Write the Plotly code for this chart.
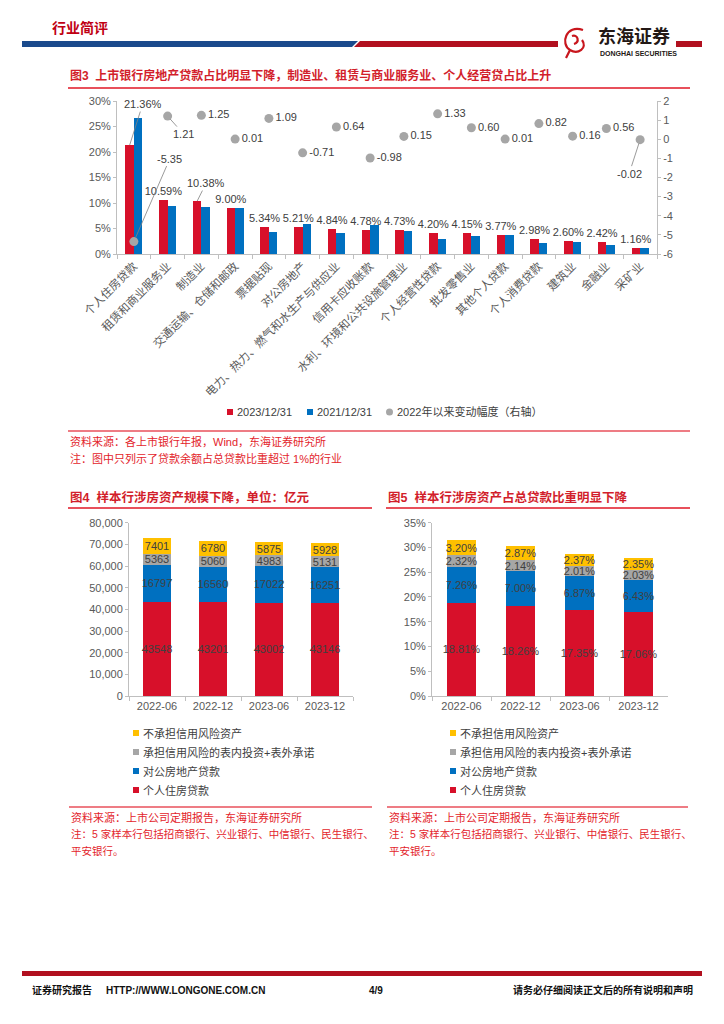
import plotly.graph_objects as go

# page body has an 8px default margin: the figure covers 716x1016 starting at (8, 8)
OFF = 8
W, H = 724 - OFF, 1024 - OFF
def X(p): return (p - OFF) / W
def Y(p): return 1 - (p - OFF) / H

# ---------------- data ----------------
industries = ["个人住房贷款", "租赁和商业服务业", "制造业", "交通运输、仓储和邮政", "票据贴现",
              "对公房地产", "电力、热力、燃气和水生产与供应业", "信用卡应收账款",
              "水利、环境和公共设施管理业", "个人经营性贷款", "批发零售业", "其他个人贷款",
              "个人消费贷款", "建筑业", "金融业", "采矿业"]
share_2023 = [21.36, 10.59, 10.38, 9.00, 5.34, 5.21, 4.84, 4.78, 4.73, 4.20, 4.15, 3.77, 2.98, 2.60, 2.42, 1.16]
share_2021 = [26.71, 9.38, 9.13, 8.99, 4.25, 5.92, 4.20, 5.76, 4.58, 2.87, 3.55, 3.76, 2.16, 2.44, 1.86, 1.18]
change_since_2022 = [-5.35, 1.21, 1.25, 0.01, 1.09, -0.71, 0.64, -0.98, 0.15, 1.33, 0.60, 0.01, 0.82, 0.16, 0.56, -0.02]
fig3_series = ["2023/12/31", "2021/12/31", "2022年以来变动幅度（右轴）"]

periods = ["2022-06", "2022-12", "2023-06", "2023-12"]
scale_personal = [43548, 43201, 43002, 43146]
scale_corporate = [16797, 16560, 17022, 16251]
scale_credit_risk = [5363, 5060, 4983, 5131]
scale_no_credit_risk = [7401, 6780, 5875, 5928]

ratio_personal = [18.81, 18.26, 17.35, 17.06]
ratio_corporate = [7.26, 7.00, 6.87, 6.43]
ratio_credit_risk = [2.32, 2.14, 2.01, 2.03]
ratio_no_credit_risk = [3.20, 2.87, 2.37, 2.35]

stack_names = ["个人住房贷款", "对公房地产贷款", "承担信用风险的表内投资+表外承诺", "不承担信用风险资产"]

# ---------------- styles ----------------
RED = "#D7102A"
BLUE = "#0070C0"
GRAY = "#A6A6A6"
GOLD = "#FFC000"
TXT = "#404040"
AX = "#595959"
LINE = "#BFBFBF"
CAP = "#D21E2B"
SRC = "#E3242B"
FONT = "Liberation Sans, Arial, Noto Sans CJK SC, sans-serif"

fig = go.Figure()

# ---------------- Fig 3 ----------------
special_bar = {0, 2}
fig.add_trace(go.Bar(
    x=industries, y=share_2023, name=fig3_series[0], xaxis="x", yaxis="y",
    marker=dict(color=RED, line_width=0), offsetgroup="a",
    text=["" if i in special_bar else f"{v:.2f}%" for i, v in enumerate(share_2023)],
    textposition="outside", textangle=0, constraintext="none", cliponaxis=False,
    textfont=dict(size=11, color=TXT, family=FONT)))
fig.add_trace(go.Bar(
    x=industries, y=share_2021, name=fig3_series[1], xaxis="x", yaxis="y",
    marker=dict(color=BLUE, line_width=0), offsetgroup="b"))
special_dot = {0, 1, 15}
fig.add_trace(go.Scatter(
    x=industries, y=change_since_2022, name=fig3_series[2], xaxis="x", yaxis="y2",
    mode="markers+text", marker=dict(size=9, color=GRAY),
    text=["" if i in special_dot else f"{v:.2f}" for i, v in enumerate(change_since_2022)],
    textposition="middle right", cliponaxis=False,
    textfont=dict(size=11, color=TXT, family=FONT)))

# ---------------- Fig 4 ----------------
fig4_cols = [(scale_personal, RED), (scale_corporate, BLUE), (scale_credit_risk, GRAY), (scale_no_credit_risk, GOLD)]
for (vals, col), nm in zip(fig4_cols, stack_names):
    fig.add_trace(go.Bar(
        x=periods, y=vals, name=nm, xaxis="x2", yaxis="y3",
        marker=dict(color=col, line_width=0),
        text=[str(v) for v in vals], textposition="inside", insidetextanchor="middle",
        textangle=0, constraintext="none",
        textfont=dict(size=11, color=TXT, family=FONT)))

# ---------------- Fig 5 ----------------
fig5_cols = [(ratio_personal, RED), (ratio_corporate, BLUE), (ratio_credit_risk, GRAY), (ratio_no_credit_risk, GOLD)]
for (vals, col), nm in zip(fig5_cols, stack_names):
    fig.add_trace(go.Bar(
        x=periods, y=vals, name=nm, xaxis="x3", yaxis="y4",
        marker=dict(color=col, line_width=0),
        text=[f"{v:.2f}%" for v in vals], textposition="inside", insidetextanchor="middle",
        textangle=0, constraintext="none",
        textfont=dict(size=11, color=TXT, family=FONT)))

axis_common = dict(showgrid=False, zeroline=False, showline=True, linecolor=LINE, linewidth=1,
                   ticks="outside", tickcolor=LINE, ticklen=3, automargin=False,
                   tickfont=dict(size=11, color=AX, family=FONT))

fig.update_layout(
    width=W, height=H, margin=dict(l=0, r=0, t=0, b=0, pad=0, autoexpand=False),
    paper_bgcolor="white", plot_bgcolor="white", showlegend=False,
    barmode="stack", bargap=0.5, bargroupgap=0,
    font=dict(family=FONT, color=TXT),
    xaxis=dict(domain=[X(117), X(657)], anchor="y", type="category", tickson="boundaries",
               range=[-0.5, len(industries) - 0.5], tickangle=-45,
               **{**axis_common, "ticklen": 4, "tickfont": dict(size=11.5, color=AX, family=FONT)}),
    yaxis=dict(domain=[Y(254), Y(101)], anchor="x", range=[0, 30], dtick=5, ticksuffix="%", **axis_common),
    yaxis2=dict(overlaying="y", side="right", anchor="x", range=[-6, 2],
                tickvals=list(range(-6, 3)), ticktext=[str(v) for v in range(-6, 3)], **axis_common),
    xaxis2=dict(domain=[X(129), X(353)], anchor="y3", type="category", tickson="boundaries",
                range=[-0.5, len(periods) - 0.5], **{**axis_common, "ticklen": 4}),
    yaxis3=dict(domain=[Y(696), Y(522.7)], anchor="x2", range=[0, 80000], dtick=10000,
                tickformat=",d", **axis_common),
    xaxis3=dict(domain=[X(432), X(668)], anchor="y4", type="category", tickson="boundaries",
                range=[-0.5, len(periods) - 0.5], **{**axis_common, "ticklen": 4}),
    yaxis4=dict(domain=[Y(696), Y(522.7)], anchor="x3", range=[0, 35], dtick=5, ticksuffix="%",
                **axis_common),
)

ann = []
shapes = []

def text(x, y, s, size=11, color=TXT, xanchor="left", bold=False):
    ann.append(dict(xref="paper", yref="paper", x=X(x), y=Y(y), text=f"<b>{s}</b>" if bold else s,
                    showarrow=False, xanchor=xanchor, yanchor="middle",
                    font=dict(size=size, color=color, family=FONT)))

def hline(x0, x1, y, color, width=1.5):
    shapes.append(dict(type="line", xref="paper", yref="paper", x0=X(x0), x1=X(x1), y0=Y(y), y1=Y(y),
                       line=dict(color=color, width=width)))

def rect(x0, y0, x1, y1, color):
    shapes.append(dict(type="rect", xref="paper", yref="paper", x0=X(x0), x1=X(x1), y0=Y(y0), y1=Y(y1),
                       fillcolor=color, line=dict(width=0)))

def poly(pts, color):
    p = "M " + " L ".join(f"{X(a)},{Y(b)}" for a, b in pts) + " Z"
    shapes.append(dict(type="path", xref="paper", yref="paper", path=p, fillcolor=color, line=dict(width=0)))

# header
text(50, 28, "行业简评", size=14, color="#C00012", bold=True)
poly([(22, 41), (358, 41), (352, 47), (22, 47)], "#1A4A8C")
poly([(360, 41), (558, 41), (558, 47), (354, 47)], "#B1101F")
rect(676, 41, 702, 47, "#B1101F")
shapes.append(dict(type="path", xref="paper", yref="paper",
                   path=f"M {X(583)},{Y(30)} C {X(566)},{Y(24)} {X(560)},{Y(44)} {X(570)},{Y(50)} "
                        f"C {X(578)},{Y(55)} {X(588)},{Y(48)} {X(582)},{Y(40)} "
                        f"M {X(572)},{Y(36)} C {X(578)},{Y(34)} {X(580)},{Y(42)} {X(574)},{Y(44)} "
                        f"M {X(570)},{Y(50)} L {X(566)},{Y(58)}",
                   line=dict(color="#C8161D", width=2.2)))
text(596, 37, "东海证券", size=18, color="#231815", bold=True)
text(598, 53, "DONGHAI SECURITIES", size=7, color="#231815", bold=True)

# figure 3 caption
text(68, 76, "图3  上市银行房地产贷款占比明显下降，制造业、租赁与商业服务业、个人经营贷占比上升", size=12, color=CAP, bold=True)
hline(68, 690, 88, "#E8505B", 2)

# fig3 legend
rect(227, 409, 233, 415, RED); text(235, 412, fig3_series[0])
rect(307, 409, 313, 415, BLUE); text(315, 412, fig3_series[1])
shapes.append(dict(type="circle", xref="paper", yref="paper", x0=X(386), x1=X(393), y0=Y(408.5), y1=Y(415.5),
                   fillcolor=GRAY, line=dict(width=0)))
text(395, 412, fig3_series[2])

hline(68, 690, 431, "#E8505B", 1.5)
text(68, 441, "资料来源：各上市银行年报，Wind，东海证券研究所", color=SRC)
text(68, 458, "注：图中只列示了贷款余额占总贷款比重超过 1%的行业", color=SRC)

# leader-line labels fig 3
lead = dict(showarrow=True, arrowhead=0, arrowwidth=0.8, arrowcolor="#808080",
            font=dict(size=11, color=TXT, family=FONT))
ann.append(dict(x=industries[0], y=share_2023[0], xref="x", yref="y", xshift=-4.2,
                text=f"{share_2023[0]:.2f}%", ax=13, ay=-41, **lead))
ann.append(dict(x=industries[2], y=share_2023[2], xref="x", yref="y", xshift=-4.2,
                text=f"{share_2023[2]:.2f}%", ax=9, ay=-18, **lead))
ann.append(dict(x=industries[0], y=change_since_2022[0], xref="x", yref="y2", standoff=4,
                text=f"{change_since_2022[0]:.2f}", ax=36, ay=-83, **lead))
ann.append(dict(x=industries[1], y=change_since_2022[1], xref="x", yref="y2", standoff=4,
                text=f"{change_since_2022[1]:.2f}", ax=16, ay=18, **lead))
ann.append(dict(x=industries[15], y=change_since_2022[15], xref="x", yref="y2", standoff=4,
                text=f"{change_since_2022[15]:.2f}", ax=-11, ay=34, **lead))

# figure 4/5 captions
text(68, 497, "图4  样本行涉房资产规模下降，单位：亿元", size=12.5, color=CAP, bold=True)
hline(68, 372, 508, "#E8505B", 2)
text(386, 497, "图5  样本行涉房资产占总贷款比重明显下降", size=12.5, color=CAP, bold=True)
hline(386, 690, 508, "#E8505B", 2)

# stacked legends
leg_rows = [(733, stack_names[3], GOLD), (752, stack_names[2], GRAY), (771, stack_names[1], BLUE), (790, stack_names[0], RED)]
for y, nm, col in leg_rows:
    rect(133, y - 3, 139, y + 3, col); text(141, y, nm)
    rect(450, y - 3, 456, y + 3, col); text(458, y, nm)

for x0, x1 in [(69, 372), (387, 688)]:
    hline(x0, x1, 807, "#E8505B", 1.5)
    text(x0, 817, "资料来源：上市公司定期报告，东海证券研究所", color=SRC)
    text(x0, 834, "注：5 家样本行包括招商银行、兴业银行、中信银行、民生银行、", size=10.5, color=SRC)
    text(x0, 851, "平安银行。", size=10.5, color=SRC)

# footer
rect(22, 971, 702, 976, "#B1101F")
text(30, 990, "证券研究报告", size=10, color="#111111", bold=True)
text(104, 990, "HTTP://WWW.LONGONE.COM.CN", size=10, color="#111111", bold=True)
text(367, 990, "4/9", size=10, color="#111111", bold=True)
text(695, 990, "请务必仔细阅读正文后的所有说明和声明", size=10, color="#111111", xanchor="right", bold=True)

fig.update_layout(annotations=ann, shapes=shapes)
fig.write_html("out.html")
